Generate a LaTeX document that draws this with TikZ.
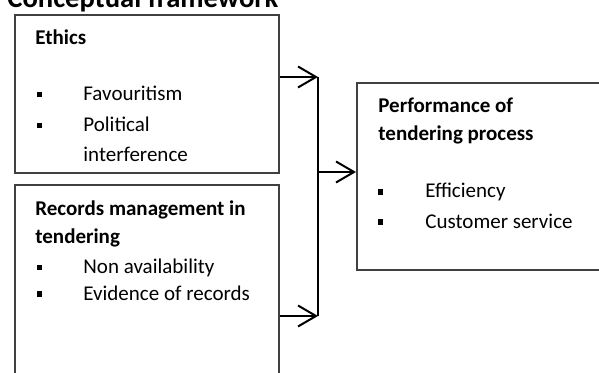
\documentclass[tikz,border=0pt]{standalone}
\usepackage{fontspec}
\setmainfont{Carlito}
\usetikzlibrary{arrows.meta}
\definecolor{framegray}{HTML}{404040}

\tikzset{
  framebox/.style={draw=framegray, line width=0.85pt, rectangle, anchor=north west, inner sep=0pt},
  txt/.style={anchor=base west, inner sep=0pt, font=\fontsize{10.5pt}{12pt}\selectfont},
  head/.style={anchor=base west, inner sep=0pt, font=\fontsize{10.5pt}{12pt}\selectfont\bfseries},
  sq/.style={fill=black, inner sep=0pt, minimum size=2.8pt},
  link/.style={line width=1pt, -{Straight Barb[length=9pt,width=10.5pt]}},
}

\begin{document}
\begin{tikzpicture}[x=0.5pt,y=-0.5pt]
\useasboundingbox (0,0) rectangle (599,373);
\clip (0,0) rectangle (599,373);

% title
\node[anchor=base west, inner sep=0pt, font=\fontsize{14.3pt}{16pt}\selectfont\bfseries] (title) at (7,8) {Conceptual framework};

% boxes
\node[framebox, minimum width=132pt, minimum height=79pt] (ethics) at (14,14) {};
\node[framebox, minimum width=132pt, minimum height=108pt] (records) at (14,184) {};
\node[framebox, minimum width=132pt, minimum height=93.5pt] (perf) at (356,82) {};

% ethics
\node[head] (ethicsT) at (35,45) {Ethics};
\node[sq] (eb1) at (39.5,94.5) {};
\node[txt] (fav) at (83,101) {Favouritism};
\node[sq] (eb2) at (39.5,125.5) {};
\node[txt] (pol) at (83,132) {Political};
\node[txt] (inter) at (83,162) {interference};

% records
\node[head] (recT1) at (35,216) {Records management in};
\node[head] (recT2) at (35,244) {tendering};
\node[sq] (rb1) at (39.5,267.5) {};
\node[txt] (nonav) at (83,274) {Non availability};
\node[sq] (rb2) at (39.5,294) {};
\node[txt] (evid) at (83,300.5) {Evidence of records};

% performance
\node[head] (perfT1) at (378,113) {Performance of};
\node[head] (perfT2) at (378,141) {tendering process};
\node[sq] (pb1) at (380.5,192) {};
\node[txt] (eff) at (425,198) {Efficiency};
\node[sq] (pb2) at (380.5,222) {};
\node[txt] (cust) at (425,228.5) {Customer service};

% junction
\coordinate (jtop) at (318,77);
\coordinate (jbot) at (318,316);
\coordinate (jmid) at (318,172);

\draw[link] (ethics.east |- jtop) -- (jtop);
\draw[link] (records.east |- jbot) -- (jbot);
\draw[line width=1pt] (jtop) -- (jbot);
\draw[link] (jmid) -- (perf.west |- jmid);

\end{tikzpicture}
\end{document}
